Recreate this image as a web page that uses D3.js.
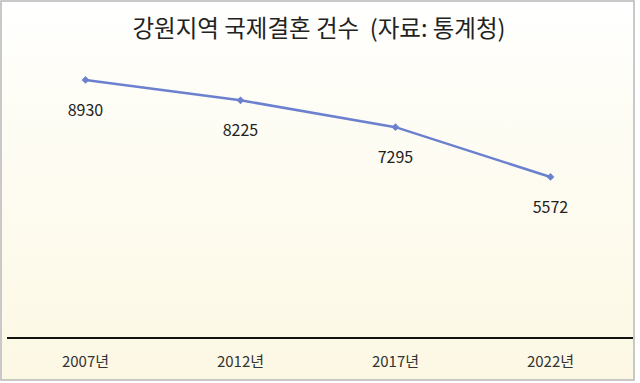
<!DOCTYPE html>
<html><head><meta charset="utf-8">
<script src="https://cdn.jsdelivr.net/npm/d3@7/dist/d3.min.js"></script>
<style>html,body{margin:0;padding:0;background:#fff;}svg{display:block;}</style>
</head><body>
<script>
const categories = ["2007년", "2012년", "2017년", "2022년"];
const values = [8930, 8225, 7295, 5572];
const title = "강원지역 국제결혼 건수  (자료: 통계청)";

const W = 640, H = 383;
const font = "'Noto Sans CJK KR', 'Noto Sans', sans-serif";
const svg = d3.select("body").append("svg").attr("width", W).attr("height", H);

const defs = svg.append("defs");
const grad = defs.append("linearGradient").attr("id", "bg").attr("x1", 0).attr("y1", 0).attr("x2", 0).attr("y2", 1);
grad.append("stop").attr("offset", "0%").attr("stop-color", "#ffffff");
grad.append("stop").attr("offset", "25%").attr("stop-color", "#fefdf6");
grad.append("stop").attr("offset", "100%").attr("stop-color", "#fcf8e4");

svg.append("rect").attr("x", 1).attr("y", 1).attr("width", 633).attr("height", 379)
  .attr("fill", "url(#bg)").attr("stroke", "#b8b8b8").attr("stroke-width", 1.5);

svg.append("text").attr("x", 319).attr("y", 37).attr("text-anchor", "middle")
  .style("white-space", "pre").attr("xml:space", "preserve")
  .attr("font-family", font).attr("font-size", 23.5).attr("font-weight", 400).attr("fill", "#222").text(title);

const x = d3.scaleBand().domain(categories).range([8, 628]);
const y = d3.scaleLinear().domain([0, 10000]).range([338, 49]);
const cx = d => x(d) + x.bandwidth() / 2;

// axis line
svg.append("line").attr("x1", 7).attr("x2", 633).attr("y1", y(0)).attr("y2", y(0))
  .attr("stroke", "#111").attr("stroke-width", 2);

const xAxis = d3.axisBottom(x).tickSize(0).tickPadding(0);
const gx = svg.append("g").attr("transform", `translate(0,${y(0)})`).call(xAxis);
gx.select(".domain").remove();
gx.selectAll("text").attr("font-family", font).attr("font-size", 15).attr("fill", "#333").attr("dy", "1.2em").attr("y", 11);

const data = categories.map((c, i) => ({c, v: values[i]}));
const line = d3.line().x(d => cx(d.c)).y(d => y(d.v));
svg.append("path").datum(data).attr("d", line).attr("fill", "none")
  .attr("stroke", "#6b80cf").attr("stroke-width", 2.5);

svg.selectAll(".mk").data(data).enter().append("path")
  .attr("d", d3.symbol(d3.symbolSquare, 30)())
  .attr("transform", d => `translate(${cx(d.c)},${y(d.v)}) rotate(45)`)
  .attr("fill", "#6b80cf");

svg.selectAll(".lbl").data(data).enter().append("text")
  .attr("x", d => cx(d.c)).attr("y", d => y(d.v) + 36)
  .attr("text-anchor", "middle").attr("font-family", font).attr("font-size", 16)
  .attr("fill", "#222").text(d => d.v);
</script>
</body></html>
